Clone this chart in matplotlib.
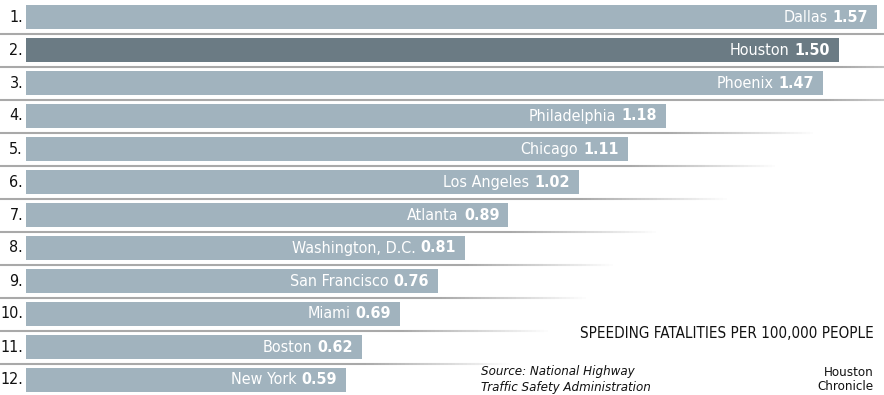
import numpy as np
import matplotlib.pyplot as plt
from matplotlib.collections import LineCollection

# data
ranks = ["1.", "2.", "3.", "4.", "5.", "6.", "7.", "8.", "9.", "10.", "11.", "12."]
cities = ["Dallas", "Houston", "Phoenix", "Philadelphia", "Chicago", "Los Angeles",
          "Atlanta", "Washington, D.C.", "San Francisco", "Miami", "Boston", "New York"]
rates = [1.57, 1.50, 1.47, 1.18, 1.11, 1.02, 0.89, 0.81, 0.76, 0.69, 0.62, 0.59]
highlight = "Houston"

W, H = 884, 395
LIGHT = "#a1b3be"
DARK = "#6b7b84"
SEP = "#a9a9a9"

plt.rcParams["font.family"] = ["DejaVu Sans"]
plt.rcParams["font.stretch"] = "condensed"

fig = plt.figure(figsize=(W / 100, H / 100), dpi=100)
ax = fig.add_axes([0, 0, 1, 1])

# pixel geometry -> data limits (bars start at x=26px, 542px per unit, rows 33px apart)
x0px, scale = 26, 542.0
ax.set_xlim(-x0px / scale, (W - x0px) / scale)
ax.set_ylim((H - 17) / 33.0, -17 / 33.0)
ax.axis("off")

y = np.arange(len(cities))
colors = [DARK if c == highlight else LIGHT for c in cities]
ax.barh(y, rates, height=24 / 33.0, color=colors, left=0)

# separator lines fading out past the bar above
xl = -x0px / scale
for i in range(len(cities) - 1):
    yy = i + 0.5
    v = rates[i]
    ax.plot([xl, v], [yy, yy], color=SEP, lw=1.5, solid_capstyle="butt")
    xs = np.linspace(v, v + 0.28, 40)
    segs = [[(xs[k], yy), (xs[k + 1], yy)] for k in range(len(xs) - 1)]
    alphas = np.linspace(1, 0, len(segs))
    cols = [(0.663, 0.663, 0.663, a) for a in alphas]
    ax.add_collection(LineCollection(segs, colors=cols, linewidths=1.5))

for i, (r, c, v) in enumerate(zip(ranks, cities, rates)):
    ax.annotate(r, xy=(xl, i), xytext=(23, 0), textcoords="offset pixels",
                ha="right", va="center", fontsize=11.5, color="#111111")
    vt = ax.annotate(f"{v:.2f}", xy=(v, i), xytext=(-9, 0), textcoords="offset pixels",
                     ha="right", va="center", fontsize=11.5, fontweight="bold",
                     color="white")
    ax.annotate(c, xy=(0, 0), xycoords=vt, xytext=(-5, 0), textcoords="offset pixels",
                ha="right", va="bottom", fontsize=11.5, color="white")

fig.text(874 / W, 1 - 333.5 / H, "SPEEDING FATALITIES PER 100,000 PEOPLE",
         ha="right", va="center", fontsize=10.9, color="#111111")
fig.text(481 / W, 1 - 372 / H, "Source: National Highway",
         ha="left", va="center", fontsize=9.5, style="italic", color="#111111")
fig.text(481 / W, 1 - 387 / H, "Traffic Safety Administration",
         ha="left", va="center", fontsize=9.5, style="italic", color="#111111")
fig.text(874 / W, 1 - 372 / H, "Houston",
         ha="right", va="center", fontsize=9.5, color="#111111")
fig.text(874 / W, 1 - 387 / H, "Chronicle",
         ha="right", va="center", fontsize=9.5, color="#111111")

fig.savefig("out.png", dpi=100)
